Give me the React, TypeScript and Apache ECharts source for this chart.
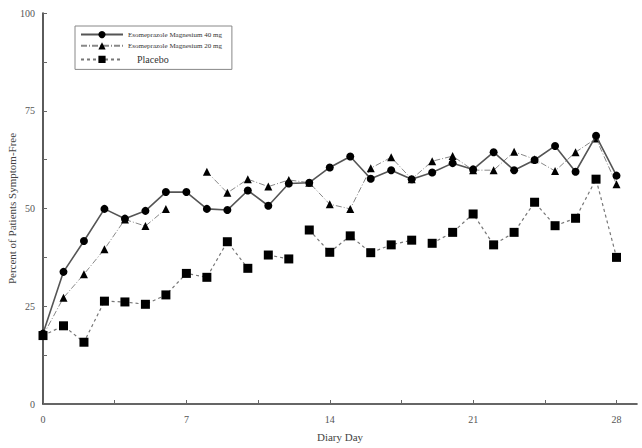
import * as echarts from 'echarts';
import React, { useEffect, useRef } from 'react';

// Diary days 0..28
const days = Array.from({ length: 29 }, (_, i) => i);

const mg40 = [
  18, 33.8, 41.7, 49.9, 47.4, 49.4, 54.2, 54.2, 49.9, 49.6,
  54.6, 50.7, 56.4, 56.6, 60.5, 63.3, 57.6, 59.8, 57.5, 59.2,
  61.6, 60.0, 64.4, 59.8, 62.4, 66.0, 59.4, 68.6, 58.4,
];

// day 7 not plotted
const mg20 = [
  17.5, 27.2, 33.2, 39.6, 47.2, 45.5, 49.9, null, 59.4, 54.0,
  57.5, 55.6, 57.3, 56.6, 51.1, 49.9, 60.3, 63.1, 57.5, 62.1,
  63.4, 59.8, 59.8, 64.5, 62.6, 59.6, 64.4, 67.9, 56.2,
];

const placebo = [
  17.5, 20.0, 15.8, 26.3, 26.1, 25.5, 27.9, 33.4, 32.4, 41.5,
  34.7, 38.1, 37.1, 44.5, 38.8, 43.0, 38.7, 40.7, 41.9, 41.1,
  43.9, 48.6, 40.7, 43.9, 51.6, 45.6, 47.5, 57.5, 37.5,
];
// the dotted placebo line is not drawn after these days
const placeboBreaks = [10, 12, 18];

const xTicks = [0, 3.5, 7, 10.5, 14, 17.5, 21, 24.5, 28];
const xLabels = [0, 7, 14, 21, 28];
const yTicks = [0, 12.5, 25, 37.5, 50, 62.5, 75, 87.5, 100];
const yLabels = [0, 25, 50, 75, 100];

const NAME_40 = 'Esomeprazole Magnesium 40 mg';
const NAME_20 = 'Esomeprazole Magnesium 20 mg';
const NAME_PL = 'Placebo';

const FONT = 'Liberation Serif';

// split a series into line pieces that share one legend name
function segments(values: (number | null)[], breaks: number[]) {
  const out: (number | null)[][][] = [];
  let cur: (number | null)[][] = [];
  values.forEach((v, i) => {
    cur.push([days[i], v]);
    if (breaks.includes(i)) {
      out.push(cur);
      cur = [];
    }
  });
  if (cur.length) out.push(cur);
  return out;
}

const App: React.FC = () => {
  const chartRef = useRef<HTMLDivElement>(null);

  useEffect(() => {
    const myChart = echarts.init(chartRef.current!, null, { renderer: 'svg' });

    const placeboSeries = segments(placebo, placeboBreaks).map((seg) => ({
      name: NAME_PL,
      type: 'line',
      data: seg,
      symbol: 'rect',
      symbolSize: 9,
      itemStyle: { color: '#000' },
      lineStyle: { color: '#777', width: 1.2, type: [3, 3] },
      z: 2,
    }));

    const option = {
      animation: false,
      backgroundColor: '#fff',
      textStyle: { fontFamily: FONT },
      grid: { left: 43, right: 5, top: 13, bottom: 44, outerBoundsMode: 'none' },
      legend: {
        data: [NAME_40, NAME_20, NAME_PL],
        orient: 'vertical',
        left: 75,
        top: 26,
        itemWidth: 42,
        itemHeight: 9,
        itemGap: 4,
        padding: [5, 10, 4, 5],
        borderColor: '#888',
        borderWidth: 1,
        formatter: (name: string) => (name === NAME_PL ? `   {b|${name}}` : `{a|${name}}`),
        textStyle: {
          fontFamily: FONT,
          color: '#333',
          rich: {
            a: { fontSize: 7, fontFamily: FONT, color: '#333', lineHeight: 10 },
            b: { fontSize: 10, fontFamily: FONT, color: '#333', lineHeight: 10 },
          },
        },
      },
      xAxis: {
        type: 'value',
        min: 0,
        max: 29,
        name: 'Diary Day',
        nameLocation: 'middle',
        nameGap: 27,
        nameMoveOverlap: false,
        nameTextStyle: { fontFamily: FONT, fontSize: 11, color: '#444' },
        axisLine: { lineStyle: { color: '#333', width: 1.6 } },
        axisTick: {
          inside: true,
          length: 4,
          customValues: xTicks,
          lineStyle: { color: '#666' },
        },
        axisLabel: {
          customValues: xLabels,
          margin: 10,
          fontFamily: FONT,
          fontSize: 10,
          color: '#555',
        },
        splitLine: { show: false },
      },
      yAxis: {
        type: 'value',
        min: 0,
        max: 100,
        name: 'Percent of Patients Symptom-Free',
        nameLocation: 'middle',
        nameGap: 26,
        nameMoveOverlap: false,
        nameRotate: 90,
        nameTextStyle: { fontFamily: FONT, fontSize: 11, color: '#444' },
        axisLine: { show: true, lineStyle: { color: '#333', width: 1.6 } },
        axisTick: {
          show: true,
          inside: true,
          length: 4,
          customValues: yTicks,
          lineStyle: { color: '#666' },
        },
        axisLabel: {
          customValues: yLabels,
          margin: 8,
          fontFamily: FONT,
          fontSize: 10,
          color: '#555',
        },
        splitLine: { show: false },
      },
      series: [
        ...placeboSeries,
        {
          name: NAME_20,
          type: 'line',
          data: mg20.map((v, i) => [days[i], v]),
          connectNulls: false,
          symbol: 'triangle',
          symbolSize: 8,
          itemStyle: { color: '#000' },
          lineStyle: { color: '#888', width: 1, type: [6, 2, 1, 2] },
          z: 3,
        },
        {
          name: NAME_40,
          type: 'line',
          data: mg40.map((v, i) => [days[i], v]),
          symbol: 'circle',
          symbolSize: 8,
          itemStyle: { color: '#000' },
          lineStyle: { color: '#555', width: 1.6 },
          z: 4,
        },
      ],
    };

    myChart.setOption(option);

    return () => {
      myChart.dispose();
    };
  }, []);

  return (
    <div
      ref={chartRef}
      style={{ position: 'fixed', left: 0, top: 0, width: '642px', height: '448px' }}
    />
  );
};

export default App;
